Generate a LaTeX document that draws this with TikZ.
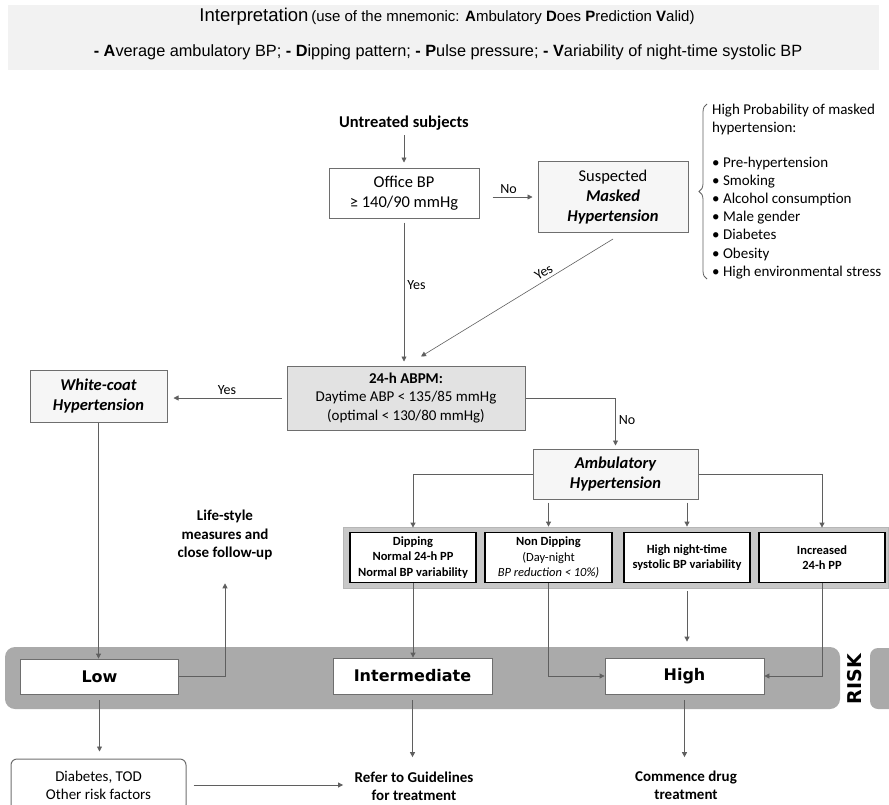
\documentclass[tikz,border=0pt]{standalone}
\usepackage{fontspec}
\setmainfont{Carlito}
\newfontfamily\headfont{Liberation Sans}
\newfontfamily\riskfont{DejaVu Sans}
\usepackage{tikz}
\usetikzlibrary{arrows.meta, positioning, decorations.pathreplacing}
\definecolor{linegray}{RGB}{95,95,95}
\definecolor{boxgray}{RGB}{110,110,110}
\definecolor{headfill}{RGB}{242,242,242}
\definecolor{abpmfill}{RGB}{226,226,226}
\definecolor{softfill}{RGB}{246,246,246}
\definecolor{bandfill}{RGB}{200,200,200}
\definecolor{riskfill}{RGB}{170,170,170}
\newcommand{\fsz}[2]{\fontsize{#1}{#2}\selectfont}

\begin{document}
\begin{tikzpicture}[
    x=1pt, y=-1pt,
    box/.style={rectangle, draw=boxgray, line width=1pt, align=center, inner sep=0pt, font=\fsz{16.5}{20}},
    choice/.style={rectangle, draw=black, line width=1.8pt, fill=white, align=center, inner sep=0pt, minimum width=126pt, minimum height=50pt, font=\bfseries\fsz{12.5}{15.5}},
    riskbox/.style={rectangle, draw=boxgray, line width=0.8pt, fill=white, minimum width=159pt, minimum height=36pt, font=\riskfont\bfseries\fsz{16}{19}},
    arrow/.style={-{Triangle[length=5pt,width=5pt]}, draw=linegray, line width=0.8pt},
    lbl/.style={font=\fsz{14}{16}, inner sep=3pt}
  ]
  \useasboundingbox (0,0) rectangle (889,804);

  % Header: the mnemonic
  \fill[headfill] (8,5) rectangle (879,70);
  \node[font=\headfont] (title) at (447,17) {{\fsz{18.5}{20}Interpretation} {\fsz{15}{16}(use of the mnemonic: \textbf{A}mbulatory \textbf{D}oes \textbf{P}rediction \textbf{V}alid)}};
  \node[font=\headfont\fsz{16.3}{18}] (mnemonic) at (448,52) {\textbf{- A}verage ambulatory BP; \textbf{- D}ipping pattern; \textbf{- P}ulse pressure; \textbf{- V}ariability of night-time systolic BP};

  % Screening
  \node[font=\bfseries\fsz{16.5}{20}] (untreated) at (404,123) {Untreated subjects};
  \node[box, minimum width=150pt, minimum height=50pt] (office) at (404,193) {Office BP\\≥ 140/90 mmHg};
  \node[box, fill=softfill, minimum width=150pt, minimum height=71pt] (masked) at (613,197) {Suspected\\\textbf{\textit{Masked}}\\\textbf{\textit{Hypertension}}};
  \node[align=left, anchor=north west, inner sep=0pt, font=\fsz{15}{18.2}] (riskfactors) at (712,104) {High Probability of masked\\hypertension:\\[16pt]• Pre-hypertension\\• Smoking\\• Alcohol consumption\\• Male gender\\• Diabetes\\• Obesity\\• High environmental stress};

  % ABPM
  \node[box, fill=abpmfill, minimum width=238pt, minimum height=64pt, font=\fsz{15}{18.3}] (abpm) at (406,398) {\textbf{24-h ABPM:}\\Daytime ABP < 135/85 mmHg\\(optimal < 130/80 mmHg)};
  \node[box, fill=softfill, minimum width=137pt, minimum height=52pt, font=\bfseries\itshape\fsz{16.5}{20}] (whitecoat) at (98.5,396) {White-coat\\Hypertension};
  \node[box, fill=softfill, minimum width=165pt, minimum height=50pt, font=\bfseries\itshape\fsz{16.5}{20}] (ambulatory) at (615.5,474) {Ambulatory\\Hypertension};

  % Phenotypes of ambulatory hypertension
  \filldraw[fill=bandfill, draw=boxgray!50, line width=0.6pt] (343,527) rectangle (888,588);
  \node[choice] (dipping) at (413,557.5) {Dipping\\Normal 24-h PP\\Normal BP variability};
  \node[choice, minimum width=127pt] (nondipping) at (548.5,557.5) {Non Dipping\\\mdseries(Day-night\\\mdseries\itshape BP reduction < 10\%)};
  \node[choice] (nightvar) at (687,557.5) {High night-time\\systolic BP variability};
  \node[choice] (pulsepp) at (822,557.5) {Increased\\24-h PP};

  % Risk band
  \fill[riskfill, rounded corners=10pt] (5,647) rectangle (840,709);
  \begin{scope}
    \clip (0,0) rectangle (889,804);
    \fill[riskfill, rounded corners=8pt] (870,648) rectangle (905,709);
  \end{scope}
  \node[font=\riskfont\bfseries\fsz{19}{20}, rotate=90] (risk) at (855,679) {RISK};
  \node[riskbox, minimum width=158pt, minimum height=35pt] (low) at (99.5,676.5) {Low};
  \node[riskbox] (intermediate) at (412.5,676) {Intermediate};
  \node[riskbox] (high) at (684.5,676) {High};

  % Outcomes
  \node[align=center, font=\bfseries\fsz{15}{18.3}] (lifestyle) at (225,535) {Life-style\\measures and\\close follow-up};
  \node[box, rounded corners=6pt, minimum width=175pt, minimum height=52pt, font=\fsz{15}{18}] (diabetes) at (98.5,785) {Diabetes, TOD\\Other risk factors};
  \node[align=center, font=\bfseries\fsz{15}{18}] (guidelines) at (414,786) {Refer to Guidelines\\for treatment};
  \node[align=center, font=\bfseries\fsz{15}{18}] (drug) at (686,785) {Commence drug\\treatment};

  % Arrows
  \draw[arrow, shorten <=1.5pt, shorten >=5pt] (untreated) -- (office);
  \draw[arrow, shorten <=13pt, shorten >=5pt] (office.east |- masked.west) -- node[lbl, above] {No} (masked.west);
  \draw[arrow, shorten <=4pt, shorten >=4pt] (office.south) -- node[lbl, right, pos=0.45] {Yes} (office.south |- abpm.north);
  \draw[arrow, line width=0.6pt] ([yshift=-6pt]masked.south) -- node[lbl, above, sloped, pos=0.34] {Yes} ([xshift=15pt,yshift=9pt]abpm.north);
  \draw[arrow, shorten <=5pt, shorten >=6pt] (abpm.west) -- node[lbl, above] {Yes} (abpm.west -| whitecoat.east);
  \draw[arrow, shorten >=3pt] (abpm.east) -| node[lbl, right, pos=0.72] {No} (ambulatory.north);
  \draw[arrow, shorten >=4pt] (ambulatory.west) -| (dipping.north);
  \draw[arrow, shorten >=4pt] (ambulatory.east) -| (pulsepp.north);
  \draw[arrow, shorten <=3pt, shorten >=5pt] (ambulatory.south -| nondipping) -- (nondipping.north);
  \draw[arrow, shorten <=3pt, shorten >=5pt] (ambulatory.south -| nightvar) -- (nightvar.north);
  \draw[arrow] (dipping.south) -- (dipping.south |- intermediate.north);
  \draw[arrow] (nondipping.south) |- (high.west);
  \draw[arrow, shorten <=8pt, shorten >=16pt] (nightvar.south) -- (nightvar.south |- high.north);
  \draw[arrow] (pulsepp.south) |- (high.east);
  \draw[arrow] (whitecoat.south) -- (whitecoat.south |- low.north);
  \draw[arrow, shorten >=20pt] (low.east) -| (lifestyle.south);
  \draw[arrow, shorten <=6pt, shorten >=7pt] (low.south) -- (low.south |- diabetes.north);
  \draw[arrow, shorten <=7pt, shorten >=8pt] (diabetes.east) -- (diabetes.east -| guidelines.west);
  \draw[arrow, shorten <=6pt, shorten >=11pt] (intermediate.south) -- (intermediate.south |- guidelines.north);
  \draw[arrow, shorten <=6pt, shorten >=10pt] (high.south) -- (high.south |- drug.north);

  % Brace for the risk factors
  \draw[linegray, line width=0.8pt, decorate, decoration={brace, amplitude=8pt}] ([xshift=-5pt]riskfactors.south west) -- ([xshift=-5pt]riskfactors.north west);
\end{tikzpicture}
\end{document}
